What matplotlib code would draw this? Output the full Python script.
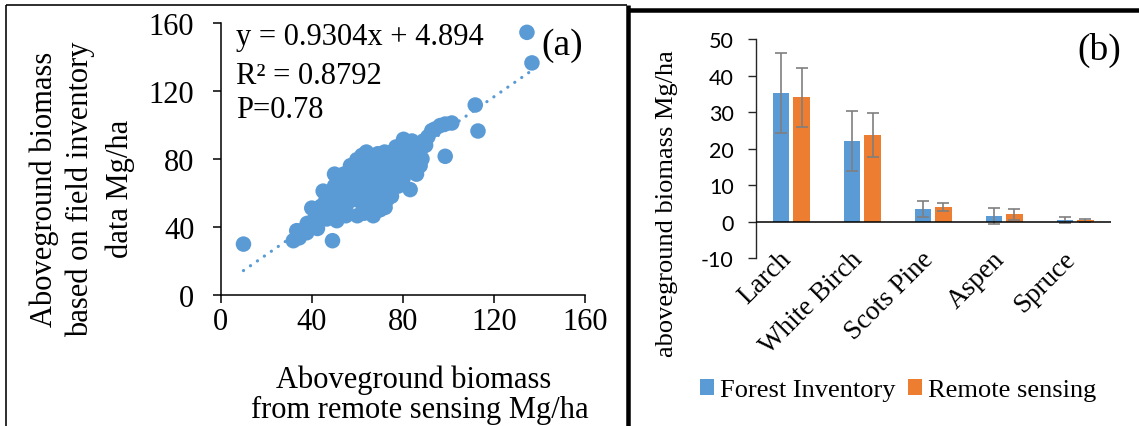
import matplotlib
matplotlib.use('Agg')
import matplotlib.pyplot as plt
import numpy as np
from matplotlib.lines import Line2D
from matplotlib.patches import Patch
import matplotlib.transforms as mtransforms

# ---------------- Panel (a) data ----------------
rs_biomass = [134.5, 136.7, 111.8, 113.0, 98.6, 10.0, 49.1, 83.2,
              101.5, 98.6, 96.4, 94.0, 92.7, 91.0, 89.0, 87.0,
              80.3, 84.0, 82.0, 77.0, 72.0, 69.0, 64.0, 62.0, 59.8, 57.0,
              31.9, 33.4, 34.5, 37.8, 40.0, 42.5, 40.0, 43.0, 45.0, 46.0, 48.0, 50.0, 52.0, 54.0, 50.0,
              51.0, 46.6, 55.0, 60.0, 63.0, 67.0, 70.0, 72.2, 73.0, 75.0, 78.0, 80.0, 82.0, 86.0, 87.6, 88.4, 86.9, 85.0,
              48.0, 50.0, 52.0, 53.0, 55.0, 56.0, 57.0, 58.0, 59.0, 60.0, 61.0, 62.0, 62.0, 63.0, 64.0, 64.0,
              65.0, 66.0, 67.0, 67.0, 68.0, 68.0, 69.0, 70.0, 70.0, 71.0, 72.0, 73.0, 74.0, 74.0, 75.0, 76.0,
              77.0, 78.0, 79.0, 80.0, 81.0, 83.0, 84.0, 85.0, 88.0, 90.0, 44.0, 47.0, 38.0, 41.0, 36.0,
              55.0, 58.0, 60.0, 65.0, 66.0, 70.0, 72.0, 76.0, 78.0, 80.0, 82.0, 84.0]
field_biomass = [154.5, 136.5, 111.7, 96.4, 81.5, 29.8, 31.8, 61.9,
                 101.1, 100.5, 99.6, 97.5, 96.6, 93.0, 90.5, 88.5,
                 91.5, 90.5, 89.0, 87.0, 84.0, 83.0, 84.0, 82.0, 79.5, 76.0,
                 31.8, 37.7, 33.5, 36.5, 40.0, 39.0, 51.0, 47.0, 61.0, 55.0, 52.0, 71.0, 69.0, 71.0, 64.0,
                 43.6, 44.6, 46.5, 46.5, 48.0, 46.5, 50.0, 51.4, 56.0, 58.0, 64.0, 68.0, 72.0, 71.0, 76.0, 80.0, 84.0, 87.0,
                 58.0, 50.0, 56.0, 62.0, 52.0, 64.0, 70.0, 56.0, 60.0, 66.0, 72.0, 54.0, 76.0, 60.0, 66.0, 72.0,
                 52.0, 78.0, 62.0, 68.0, 74.0, 56.0, 80.0, 66.0, 72.0, 60.0, 80.0, 68.0, 76.0, 62.0, 84.0, 70.0,
                 80.0, 74.0, 86.0, 78.0, 84.0, 76.0, 82.0, 78.0, 86.0, 88.0, 52.0, 48.0, 42.0, 44.0, 38.0,
                 58.0, 64.0, 58.0, 58.0, 64.0, 60.0, 66.0, 64.0, 80.0, 72.0, 80.0, 74.0]
trend_slope = 0.9304
trend_intercept = 4.894
eq_lines = ["y = 0.9304x + 4.894", "R² = 0.8792", "P=0.78"]
a_ticks = [0, 40, 80, 120, 160]

# ---------------- Panel (b) data ----------------
species = ['Larch', 'White Birch', 'Scots Pine', 'Aspen', 'Spruce']
inventory_mean = [35.2, 22.1, 3.55, 1.6, 0.5]
inventory_err = [11.0, 8.3, 2.25, 2.2, 0.9]
remote_mean = [34.0, 23.7, 4.0, 2.0, 0.35]
remote_err = [8.2, 6.1, 1.05, 1.6, 0.45]
b_ticks = [-10, 0, 10, 20, 30, 40, 50]
series_names = ['Forest Inventory', 'Remote sensing']

BLUE = '#5B9BD5'
ORANGE = '#ED7D31'
SERIF = 'Liberation Serif'
SANS = 'Lato'

W, H = 1139, 427
fig = plt.figure(figsize=(W / 100, H / 100), dpi=100)

def fx(px):
    return px / W

def fy(py):
    return 1 - py / H

# ---------------- Panel (a) ----------------
axa = fig.add_axes([fx(220.7), fy(295.7), fx(585) - fx(220.7), fy(24) - fy(295.7)])
axa.scatter(rs_biomass, field_biomass, s=125, color=BLUE, edgecolors='none', zorder=3)
xs = np.array([min(rs_biomass), max(rs_biomass)])
axa.plot(xs, trend_slope * xs + trend_intercept, color=BLUE, lw=2.3,
         linestyle=(0, (0.05, 2.6)), dash_capstyle='round', zorder=2)
axa.set_xlim(0, 160)
axa.set_ylim(0, 160)
axa.set_xticks(a_ticks)
axa.set_yticks(a_ticks)
axa.set_xticklabels([str(t) for t in a_ticks], fontfamily=SERIF, fontsize=22)
axa.set_yticklabels([str(t) for t in a_ticks], fontfamily=SERIF, fontsize=22)
for s in ['top', 'right']:
    axa.spines[s].set_visible(False)
for s in ['left', 'bottom']:
    axa.spines[s].set_linewidth(1.1)
axa.tick_params(axis='both', direction='out', length=6, width=1.1, color='black')
axa.tick_params(axis='y', pad=13)
axa.tick_params(axis='x', pad=3)
axa.patch.set_alpha(0)

for i, (line, py) in enumerate(zip(eq_lines, [38, 77, 111])):
    fig.text(fx(236), fy(py), line, fontfamily=SERIF, fontsize=22, ha='left', va='center')
fig.text(fx(562), fy(46), '(a)', fontfamily=SERIF, fontsize=27, ha='center', va='center')

ylab_a = ['Aboveground biomass', 'based on field inventory', 'data Mg/ha']
for line, px in zip(ylab_a, [44, 80, 120]):
    fig.text(fx(px), fy(189), line, fontfamily=SERIF, fontsize=22, rotation=90,
             ha='center', va='center')
xlab_a = ['Aboveground biomass', 'from remote sensing Mg/ha']
for line, px, py in zip(xlab_a, [414, 420], [380, 410]):
    fig.text(fx(px), fy(py), line, fontfamily=SERIF, fontsize=22, ha='center', va='center')

# ---------------- Panel (b) ----------------
axb = fig.add_axes([fx(756), fy(259.3), fx(1110.7) - fx(756), fy(40) - fy(259.3)])
x = np.arange(len(species))
bw = 0.23
off = 0.143
axb.bar(x - off, inventory_mean, bw, color=BLUE, zorder=2, label=series_names[0])
axb.bar(x + off, remote_mean, bw, color=ORANGE, zorder=2, label=series_names[1])
ekw = dict(fmt='none', ecolor='#7F7F7F', elinewidth=1.2, capsize=4.3, capthick=1.2, zorder=4)
axb.errorbar(x - off, inventory_mean, yerr=inventory_err, **ekw)
axb.errorbar(x + off, remote_mean, yerr=remote_err, **ekw)
axb.axhline(0, color='black', lw=1.1, zorder=5)
axb.set_xlim(-0.5, len(species) - 0.5)
axb.set_ylim(-10, 50)
axb.set_yticks(b_ticks)
axb.set_yticklabels([str(t) for t in b_ticks], fontfamily=SANS, fontsize=15.5)
axb.set_xticks([])
for s in ['top', 'right', 'bottom']:
    axb.spines[s].set_visible(False)
axb.spines['left'].set_linewidth(1.0)
axb.spines['left'].set_color('#262626')
axb.tick_params(axis='y', direction='out', length=6, width=1.0, color='#262626', pad=10)
axb.patch.set_alpha(0)

trans = mtransforms.blended_transform_factory(axb.transData, fig.transFigure)
for i, name in enumerate(species):
    axb.text(i + 0.07, fy(247), name, transform=trans, rotation=45, ha='right', va='top',
             fontfamily=SERIF, fontsize=19.5)

fig.text(fx(667), fy(204), 'aboveground biomass Mg/ha', fontfamily=SERIF, fontsize=19,
         rotation=90, ha='center', va='center')
fig.text(fx(1099), fy(50), '(b)', fontfamily=SERIF, fontsize=27, ha='center', va='center')

handles = [Patch(facecolor=BLUE, edgecolor='none'), Patch(facecolor=ORANGE, edgecolor='none')]
fig.legend(handles, series_names, loc='center left', bbox_to_anchor=(fx(700), fy(391)),
           ncol=2, frameon=False, prop={'family': SERIF, 'size': 19},
           handlelength=0.54, handleheight=0.54, handletextpad=0.2, columnspacing=0.5,
           borderpad=0, borderaxespad=0)

# ---------------- Panel frames ----------------
lw_px = 1.6
lw = lw_px * 72 / 100
frame_lines = [
    ([5.8, 5.8], [6.4, H + 2]),
    ([5.8, 627], [6.4, 6.4]),
    ([628.4, 628.4], [6.4, H + 2]),
    ([628.4, W + 2], [11, 11]),
]
for xx, yy in frame_lines:
    w = lw if xx[0] != 628.4 else 4.5 * 72 / 100
    fig.add_artist(Line2D([fx(v) for v in xx], [fy(v) for v in yy], color='black', lw=w,
                          transform=fig.transFigure, solid_capstyle='butt'))

fig.savefig('out.png', dpi=100)
